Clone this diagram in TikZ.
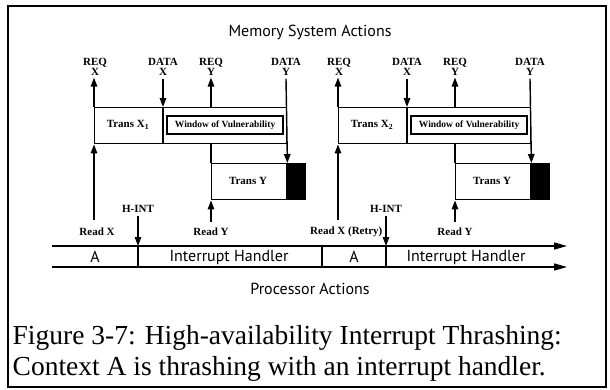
\documentclass[tikz,border=0pt]{standalone}
\usepackage{fontspec}
\setmainfont{Liberation Serif}
\newfontfamily\sansf{PT Sans}
\usetikzlibrary{arrows.meta}
\begin{document}
\begin{tikzpicture}[x=1pt,y=-1pt, line width=1.4pt,
  lbl/.style={font=\fontsize{11}{10.5}\selectfont\bfseries, inner sep=0pt, align=center},
  wlbl/.style={font=\fontsize{9.5}{10}\selectfont\bfseries},
  big/.style={font=\sansf\fontsize{16}{16}\selectfont, inner sep=0pt},
  captxt/.style={font=\fontsize{27.5}{30}\selectfont, inner sep=0pt, anchor=base west},
  tip/.style={-{Triangle[length=9pt,width=6.5pt]}},
  ltip/.style={-{Triangle[length=13pt,width=7pt]}},
  box/.style={draw, inner sep=0pt, rectangle, anchor=north west}]
\useasboundingbox (0,0) rectangle (610,389);
\draw[line width=1.3pt] (8,6) rectangle (606,387);
\node[big] (mem) at (310,32) {Memory System Actions};
\foreach \dx/\n in {0/1, 244/2} {
\begin{scope}[xshift=\dx pt]
  \node[box, minimum width=192, minimum height=36] (tx\n) at (94,107) {};
  \node[box, minimum width=75, minimum height=36] (ty\n) at (211,163) {};
  \node[box, fill=black, minimum width=19, minimum height=36] (tyb\n) at (286,163) {};
  \coordinate (dv\n) at (163,107);
  \draw (dv\n) -- (dv\n |- tx\n.south);
  \node[box, line width=2.2pt, minimum width=116, minimum height=18, wlbl] (win\n) at (166,115) {Window of Vulnerability};
  \node[lbl] (tlx\n) at (128,125) {Trans X\textsubscript{\n}};
  \node[lbl] (tly\n) at (248,181) {Trans Y};
  \node[lbl] (rqx\n) at (95,67) {REQ\\X};
  \node[lbl] (dtx\n) at (163,67) {DATA\\X};
  \node[lbl] (rqy\n) at (211,67) {REQ\\Y};
  \node[lbl] (dty\n) at (286,67) {DATA\\Y};
  \draw[tip, shorten >=1pt] (tx\n.north west) -- (rqx\n.south -| tx\n.north west);
  \draw[tip] ([yshift=-2pt]dtx\n.south) -- (dv\n);
  \coordinate (ry\n) at (211,107);
  \draw[tip, shorten >=1pt] (ry\n) -- (rqy\n.south -| ry\n);
  \draw[tip] ([yshift=-2pt]dty\n.south) -- (ty\n.north east);
  \draw (ty\n.north west) -- (tx\n.south -| ty\n.north west);
  \coordinate (rxb\n) at (94,220);
  \draw[tip] (rxb\n) -- (tx\n.south west);
  \node[lbl] (rdy\n) at (211,232) {Read Y};
  \coordinate (ryb\n) at (211,222);
  \draw[tip] (ryb\n) -- (ty\n.south west);
\end{scope}
}
\node[lbl] (rdx1) at (97,232) {Read X};
\node[lbl, anchor=east] (rdx2) at (383,232) {Read X (Retry)};
% timeline
\coordinate (t1s) at (52,246); \coordinate (t1e) at (567,246);
\coordinate (t2s) at (52,267); \coordinate (t2e) at (567,267);
\draw[ltip] (t1s) -- (t1e);
\draw[ltip] (t2s) -- (t2e);
\foreach \x/\m in {138/a, 322/b, 386/c} {
  \coordinate (d\m) at (\x,246);
  \draw (d\m) -- (d\m |- t2s);
}
\node[lbl] (hint1) at (138,209) {H-INT};
\node[lbl] (hint2) at (386,209) {H-INT};
\draw[tip] ([yshift=-3pt]hint1.south) -- (da);
\draw[tip] ([yshift=-3pt]hint2.south) -- (dc);
\node[big] (a1) at (95,257) {A};
\node[big] (ih1) at (229,257) {Interrupt Handler};
\node[big] (a2) at (354,257) {A};
\node[big] (ih2) at (466,257) {Interrupt Handler};
\node[big] (proc) at (310,289) {Processor Actions};
\node[captxt] (cap1) at (12,344) {Figure 3-7: High-availability Interrupt Thrashing:};
\node[captxt] (cap2) at (12,375) {Context A is thrashing with an interrupt handler.};
\end{tikzpicture}
\end{document}
